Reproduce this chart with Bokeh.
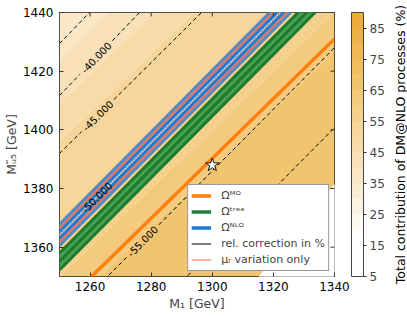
import math
import numpy as np
from bokeh.plotting import figure
from bokeh.layouts import row
from bokeh.models import (Range1d, FixedTicker, ColorBar, LinearColorMapper,
                          Legend, LegendItem, Title)
from bokeh.core.properties import value
from bokeh.embed import file_html
from bokeh.resources import INLINE

FONT = "DejaVu Sans"

# ---------------- data ----------------
m1_grid = [1250, 1260, 1270, 1280, 1290, 1300, 1310, 1320, 1330, 1340]
msb_grid = [1350, 1360, 1370, 1380, 1390, 1400, 1410, 1420, 1430, 1440]
# total DM@NLO contribution (%) as a function of the mass gap M_sq - M_1
gap_profile = [10, 20, 30, 40, 50, 60, 70, 80, 90, 100,
               110, 120, 130, 140, 150, 160, 170, 180, 190]
contrib_profile = [68.5, 68.5, 68.5, 68.5, 68.0, 67.5, 67.0, 66.0, 64.5, 60.0,
                   55.5, 54.0, 53.0, 51.5, 49.0, 44.5, 41.0, 38.5, 37.5]
contrib_levels = [5, 10, 15, 20, 25, 30, 35, 40, 45, 50, 55, 60, 65, 70, 75, 80, 85, 90]
cbar_ticks = [5, 15, 25, 35, 45, 55, 65, 75, 85]
cbar_title = "Total contribution of DM@NLO processes (%)"

# region without data (blank)
nodata_m1 = [1315.3, 1340.0, 1340.0]
nodata_msb = [1350.0, 1381.3, 1350.0]

# straight contour lines: M_sq at M_1 = 1250 and at M_1 = 1340
m1_ends = [1250, 1340]
corr_levels = [-35, -40, -45, -50, -55, -60]
corr_msb_lo = [1429.4, 1411.7, 1391.9, 1364.2, 1333.5, 1306.2]
corr_msb_hi = [1526.6, 1508.9, 1485.0, 1458.7, 1428.0, 1400.7]
corr_label_m1 = [None, 1262.0, 1262.5, 1262.2, 1277.2, None]

omega_mo = [1339.3, 1431.0]
omega_tree_lo = [1352.2, 1446.7]
omega_tree_mid = [1355.1, 1449.6]
omega_tree_hi = [1358.0, 1452.5]
omega_nlo_lo = [1360.5, 1455.0]
omega_nlo_hi = [1367.8, 1462.3]
mur_lo = [1361.8, 1456.3]
mur_hi = [1366.5, 1461.0]
nlo_scale_lo = [1363.0, 1457.5]
nlo_scale_hi = [1365.3, 1459.8]
nlo_central = [1364.15, 1458.65]

bench_m1 = [1300.0]
bench_msb = [1388.0]

x_ticks = [1260, 1280, 1300, 1320, 1340]
y_ticks = [1360, 1380, 1400, 1420, 1440]

# ---------------- layout / styles ----------------
H = 316
BL, BT, BB = 59, 12, 40
FW, FH = 275, H - BT - BB          # 275 x 264 plot frame
PW = 391                           # main figure width (incl. colour bar)
BR = PW - BL - FW
RW = 407 - PW                      # strip that holds the colour-bar title
TICK_LEN = 4
TICK_FS = "12px"


def blend(t, lo=(255, 255, 255), hi=(236, 172, 55)):
    c = [round(a + (b - a) * t) for a, b in zip(lo, hi)]
    return "#%02x%02x%02x" % tuple(c)


palette = ["#ffffff", "#ffffff"] + [blend(k / 14) for k in range(15)]

x0, x1 = m1_grid[0], m1_grid[-1]
y0, y1 = msb_grid[0], msb_grid[-1]
p = figure(width=PW, height=H, x_range=Range1d(x0, x1), y_range=Range1d(y0, y1),
           output_backend="svg", toolbar_location=None,
           min_border_left=BL, min_border_right=BR,
           min_border_top=BT, min_border_bottom=BB)
p.background_fill_color = "white"
p.border_fill_color = "white"
p.outline_line_color = "#222222"
p.outline_line_width = 1
p.grid.visible = False

# background field
gap_index = {g: i for i, g in enumerate(gap_profile)}
Z = np.array([[contrib_profile[gap_index[ms - m]] for m in m1_grid] for ms in msb_grid],
             dtype=float)
p.contour(np.array(m1_grid, dtype=float), np.array(msb_grid, dtype=float), Z,
          levels=contrib_levels, fill_color=palette, line_color=None)
p.patch(nodata_m1, nodata_msb, fill_color="white", line_color="white", line_width=1)


def on_line(lo, hi, m):
    return lo + (hi - lo) * (m - m1_ends[0]) / (m1_ends[1] - m1_ends[0])


# dashed contours of the relative correction
gap = 5.3
xs, ys = [], []
lab_x, lab_y, lab_t, lab_a = [], [], [], []
for lv, lo, hi, lm in zip(corr_levels, corr_msb_lo, corr_msb_hi, corr_label_m1):
    if lm is None:
        xs.append(list(m1_ends))
        ys.append([lo, hi])
    else:
        xs.append([m1_ends[0], lm - gap])
        ys.append([lo, on_line(lo, hi, lm - gap)])
        xs.append([lm + gap, m1_ends[1]])
        ys.append([on_line(lo, hi, lm + gap), hi])
        lab_x.append(lm)
        lab_y.append(on_line(lo, hi, lm))
        lab_t.append("%.3f" % lv)
        slope = (hi - lo) / (m1_ends[1] - m1_ends[0])
        lab_a.append(math.atan(slope * FH / FW))
p.multi_line(xs, ys, line_color="black", line_width=1, line_dash="4 3")

# Omega^MO
r_mo = p.line(m1_ends, omega_mo, line_color="#ff7f0e", line_width=3.5)

# Omega^tree band
p.patch(m1_ends + m1_ends[::-1], omega_tree_lo + omega_tree_hi[::-1],
        fill_color="#45a052", line_color=None)
for ln in (omega_tree_lo, omega_tree_mid, omega_tree_hi):
    p.line(m1_ends, ln, line_color="#1c7a30", line_width=3)

# Omega^NLO band
p.patch(m1_ends + m1_ends[::-1], omega_nlo_lo + omega_nlo_hi[::-1],
        fill_color="#8ea1b0", line_color=None)
for ln in (omega_nlo_lo, omega_nlo_hi):
    p.line(m1_ends, ln, line_color="#5089c6", line_width=2.8)
for ln in (mur_lo, mur_hi):
    p.line(m1_ends, ln, line_color="#f26e58", line_width=1.8)
for ln in (nlo_scale_lo, nlo_scale_hi):
    p.line(m1_ends, ln, line_color="#1b78d2", line_width=2.4)
p.line(m1_ends, nlo_central, line_color="#f2eee8", line_width=1.3, line_dash="1 2")

# contour labels
p.text(x=lab_x, y=lab_y, text=lab_t, angle=lab_a, text_align="center",
       text_baseline="middle", text_font=value(FONT), text_font_size="10px",
       text_color="black")

# benchmark point
p.star(bench_m1, bench_msb, size=14, fill_color="white", line_color="black",
       line_width=0.9)

# inward ticks on the top and right edges of the frame
dy_tick = TICK_LEN * (y1 - y0) / FH
dx_tick = TICK_LEN * (x1 - x0) / FW
p.segment(x0=x_ticks, y0=[y1] * len(x_ticks), x1=x_ticks, y1=[y1 - dy_tick] * len(x_ticks),
          line_color="#333333", line_width=1)
p.segment(x0=[x1] * len(y_ticks), y0=y_ticks, x1=[x1 - dx_tick] * len(y_ticks), y1=y_ticks,
          line_color="#333333", line_width=1)

# legend (proxy renderers, not visible in the plot area)
nan = [float("nan")]
r_tree = p.line(nan, nan, line_color="#1c7f36", line_width=3.5)
r_nlo = p.line(nan, nan, line_color="#1b78d6", line_width=3.5)
r_corr = p.line(nan, nan, line_color="black", line_width=1.2)
r_mur = p.line(nan, nan, line_color="#f0604a", line_width=1.2)
legend = Legend(items=[
    LegendItem(label="Ωᴹᴼ", renderers=[r_mo]),
    LegendItem(label="Ωᵗʳᵉᵉ", renderers=[r_tree]),
    LegendItem(label="Ωᴺᴸᴼ", renderers=[r_nlo]),
    LegendItem(label="rel. correction in %", renderers=[r_corr]),
    LegendItem(label="μᵣ variation only", renderers=[r_mur]),
], location="bottom_right", margin=5, padding=3, spacing=1,
    glyph_width=20, glyph_height=15, label_height=15, label_standoff=10,
    label_text_font=FONT, label_text_font_size="11px",
    border_line_color="#333333", border_line_width=1,
    background_fill_color="white", background_fill_alpha=1.0)
p.add_layout(legend)

# axes
for ax in (p.xaxis[0], p.yaxis[0]):
    ax.major_tick_in = TICK_LEN
    ax.major_tick_out = 0
    ax.minor_tick_line_color = None
    ax.axis_line_color = None
    ax.major_tick_line_color = "#333333"
    ax.major_label_text_font = FONT
    ax.major_label_text_font_size = TICK_FS
    ax.major_label_text_color = "black"
    ax.axis_label_text_font = FONT
    ax.axis_label_text_font_size = "12.5px"
    ax.axis_label_text_font_style = "normal"
p.xaxis.ticker = FixedTicker(ticks=x_ticks)
p.yaxis.ticker = FixedTicker(ticks=y_ticks)
p.xaxis.axis_label = "M₁ [GeV]"
p.yaxis.axis_label = "Mᵤ̃₅ [GeV]"
p.xaxis.major_label_standoff = 5
p.yaxis.major_label_standoff = 6
p.xaxis.axis_label_standoff = 2
p.yaxis.axis_label_standoff = 1

# colour bar in the right panel
mapper = LinearColorMapper(palette=palette, low=contrib_levels[0], high=contrib_levels[-1])
cb = ColorBar(color_mapper=mapper, ticker=FixedTicker(ticks=cbar_ticks), width=12,
              padding=0, margin=0, location=(17, 0),
              major_tick_in=0, major_tick_out=3, major_tick_line_color="#333333",
              minor_tick_line_color=None,
              bar_line_color="#444444", bar_line_width=1,
              label_standoff=3, major_label_text_font=FONT,
              major_label_text_font_size="12px", background_fill_alpha=0)
p.add_layout(cb, "right")

# narrow strip carrying the colour-bar title (reads bottom to top)
r = figure(width=RW, height=H, x_range=Range1d(0, 1), y_range=Range1d(0, 1),
           output_backend="svg", toolbar_location=None, title=None,
           min_border_left=0, min_border_right=0, min_border_top=BT, min_border_bottom=BB,
           x_axis_location=None, y_axis_location=None)
r.outline_line_color = None
r.grid.visible = False
r.background_fill_alpha = 0
r.border_fill_color = "white"
r.add_layout(Title(text=cbar_title, align="center", offset=-5, standoff=0,
                   text_font=FONT, text_font_size="12.5px", text_font_style="normal",
                   text_color="black"), "left")

layout = row(p, r, spacing=0)
open("out.html", "w").write(file_html(layout, INLINE))
